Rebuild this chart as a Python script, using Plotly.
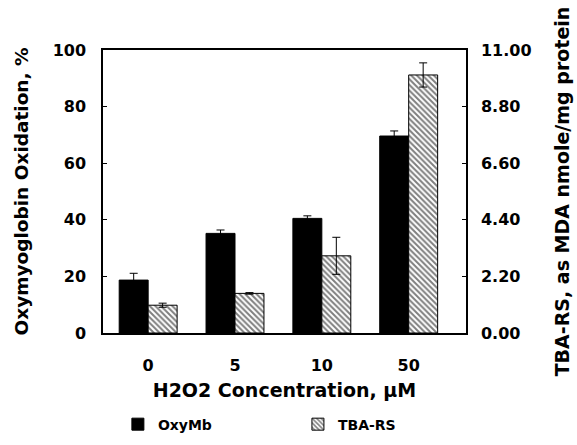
import plotly.graph_objects as go

categories = ["0", "5", "10", "50"]
oxymb = [18.7, 35.2, 40.5, 69.6]
oxymb_err = [2.4, 1.2, 0.9, 1.8]
tbars = [1.08, 1.54, 3.00, 10.03]
tbars_err = [0.08, 0.03, 0.72, 0.47]
left_ticks = [0, 20, 40, 60, 80, 100]
right_ticks = [0, 2.2, 4.4, 6.6, 8.8, 11.0]
right_ticktext = ["0.00", "2.20", "4.40", "6.60", "8.80", "11.00"]

FONT = "DejaVu Sans"


def bfont(size):
    return dict(family=FONT, size=size, color="black", weight="bold")


fig = go.Figure()
fig.add_trace(go.Bar(
    x=categories, y=oxymb, name="OxyMb", offsetgroup="a",
    marker=dict(color="black", line=dict(color="black", width=1)),
    error_y=dict(type="data", array=oxymb_err, color="black", thickness=1, width=4),
    yaxis="y", legend="legend",
))
fig.add_trace(go.Bar(
    x=categories, y=tbars, name="TBA-RS", offsetgroup="b",
    marker=dict(color="white", line=dict(color="black", width=1),
                pattern=dict(shape="\\", fgcolor="black", bgcolor="white", size=4, solidity=0.5)),
    error_y=dict(type="data", array=tbars_err, color="black", thickness=1, width=4),
    yaxis="y2", legend="legend2",
))

fig.update_layout(
    width=577, height=445,
    margin=dict(l=103, r=111, t=50, b=112, autoexpand=False),
    paper_bgcolor="white", plot_bgcolor="white",
    barmode="group", bargap=0.333, bargroupgap=0,
    font=bfont(16),
    showlegend=True,
    legend=dict(orientation="h", x=0.041, y=-0.267, xanchor="left", yanchor="top",
                font=bfont(14), itemwidth=30),
    legend2=dict(orientation="h", x=0.537, y=-0.267, xanchor="left", yanchor="top",
                 font=bfont(14), itemwidth=30),
    xaxis=dict(
        type="category", range=[-0.52, 3.66],
        showline=True, linecolor="black", linewidth=1.5, mirror=True,
        ticks="", tickfont=bfont(16), ticklabelstandoff=17,
        title=dict(text="H2O2 Concentration, µM", font=bfont(19), standoff=10),
    ),
    yaxis=dict(
        range=[0, 100], tickvals=left_ticks,
        showline=True, linecolor="black", linewidth=1.5,
        ticks="inside", ticklen=4, tickcolor="black", showgrid=False, zeroline=False,
        tickfont=bfont(16), ticklabelstandoff=12,
        title=dict(text="Oxymyoglobin Oxidation, %", font=bfont(18.5), standoff=19),
    ),
    yaxis2=dict(
        range=[0, 11], tickvals=right_ticks, ticktext=right_ticktext,
        overlaying="y", side="right",
        showline=True, linecolor="black", linewidth=1.5,
        ticks="inside", ticklen=4, tickcolor="black", showgrid=False, zeroline=False,
        tickfont=bfont(16), ticklabelstandoff=10,
        title=dict(text="TBA-RS, as MDA nmole/mg protein", font=bfont(19), standoff=25),
    ),
)

fig.write_html("out.html")
